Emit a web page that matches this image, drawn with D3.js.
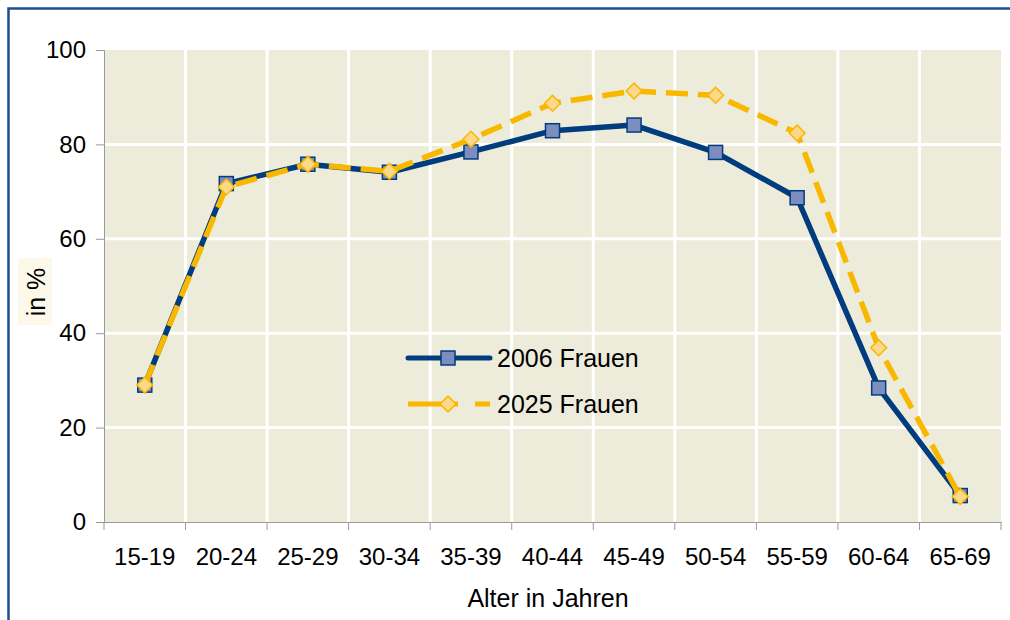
<!DOCTYPE html>
<html>
<head>
<meta charset="utf-8">
<script src="https://cdn.jsdelivr.net/npm/d3@7"></script>
<style>
  body { margin: 0; background: #fff; }
  text { font-family: "Liberation Sans", Arial, sans-serif; fill: #000; }
</style>
</head>
<body>
<div id="chart"></div>
<script>
// Age groups and participation rates (%)
const ageGroups = ["15-19", "20-24", "25-29", "30-34", "35-39", "40-44", "45-49", "50-54", "55-59", "60-64", "65-69"];
const frauen2006 = [29, 71.7, 75.8, 74.1, 78.4, 82.9, 84.1, 78.3, 68.7, 28.4, 5.6];
const frauen2025 = [29, 71.0, 75.8, 74.3, 81.1, 88.7, 91.3, 90.4, 82.4, 36.9, 5.4];
const yTicks = [0, 20, 40, 60, 80, 100];

const width = 1010;
const height = 620;
const margin = {top: 50, right: 9, bottom: 98, left: 104};

const svg = d3.select("#chart")
  .append("svg")
  .attr("width", width)
  .attr("height", height);

// outer frame
svg.append("rect")
  .attr("x", 8.5).attr("y", 8.5)
  .attr("width", 1020).attr("height", 640)
  .attr("fill", "none")
  .attr("stroke", "#1d4f8f")
  .attr("stroke-width", 2.5);

const x = d3.scaleBand()
  .domain(ageGroups)
  .range([margin.left, width - margin.right]);

const y = d3.scaleLinear()
  .domain([0, 100])
  .range([height - margin.bottom, margin.top]);

// plot background
svg.append("rect")
  .attr("x", margin.left)
  .attr("y", margin.top)
  .attr("width", width - margin.right - margin.left)
  .attr("height", y(0) - y(100))
  .attr("fill", "#edebda");

// white grid lines
svg.append("g")
  .selectAll("line")
  .data(yTicks.slice(1, -1))
  .enter().append("line")
  .attr("x1", margin.left).attr("x2", width - margin.right)
  .attr("y1", d => y(d)).attr("y2", d => y(d))
  .attr("stroke", "#fff").attr("stroke-width", 3);

svg.append("g")
  .selectAll("line")
  .data(ageGroups.slice(1))
  .enter().append("line")
  .attr("x1", d => x(d)).attr("x2", d => x(d))
  .attr("y1", y(100)).attr("y2", y(0))
  .attr("stroke", "#fff").attr("stroke-width", 3);

// Y axis
const yAxis = svg.append("g")
  .attr("transform", `translate(${margin.left},0)`)
  .call(d3.axisLeft(y).tickValues(yTicks).tickSize(8).tickPadding(10));
yAxis.selectAll("text").style("font-size", "24px");

// X axis with ticks at category boundaries
const xAxis = svg.append("g")
  .attr("transform", `translate(0,${y(0)})`)
  .call(d3.axisBottom(x).tickSize(0).tickPadding(26));
xAxis.selectAll("text").style("font-size", "24px");
xAxis.selectAll(".bound")
  .data(ageGroups.concat(["end"]))
  .enter().append("line")
  .attr("x1", (d, i) => margin.left + i * x.step())
  .attr("x2", (d, i) => margin.left + i * x.step())
  .attr("y1", 0).attr("y2", 8)
  .attr("stroke", "#999");

svg.selectAll(".domain, .tick line").attr("stroke", "#999");

// axis titles
svg.append("text")
  .attr("x", 548)
  .attr("y", 607)
  .attr("text-anchor", "middle")
  .style("font-size", "25px")
  .text("Alter in Jahren");

svg.append("rect")
  .attr("x", 18).attr("y", 258)
  .attr("width", 34).attr("height", 67)
  .attr("fill", "#fcf8ea");
svg.append("text")
  .attr("transform", "translate(45,292) rotate(-90)")
  .attr("text-anchor", "middle")
  .style("font-size", "25px")
  .text("in %");

// series
const cx = (d, i) => x(ageGroups[i]) + x.bandwidth() / 2;
const line = d3.line().x(cx).y(d => y(d));

svg.append("path")
  .datum(frauen2006)
  .attr("d", line)
  .attr("fill", "none")
  .attr("stroke", "#003c7e")
  .attr("stroke-width", 5.5)
  .attr("stroke-linejoin", "round");

svg.append("g")
  .selectAll("rect")
  .data(frauen2006)
  .enter().append("rect")
  .attr("x", (d, i) => cx(d, i) - 7)
  .attr("y", d => y(d) - 7)
  .attr("width", 14).attr("height", 14)
  .attr("fill", "#7d8dbf")
  .attr("stroke", "#003c7e")
  .attr("stroke-width", 1.5);

svg.append("path")
  .datum(frauen2025)
  .attr("d", line)
  .attr("fill", "none")
  .attr("stroke", "#f8b800")
  .attr("stroke-width", 5.5)
  .attr("stroke-dasharray", "22,10");

svg.append("g")
  .selectAll("path")
  .data(frauen2025)
  .enter().append("path")
  .attr("transform", (d, i) => `translate(${cx(d, i)},${y(d)}) rotate(45)`)
  .attr("d", d3.symbol().type(d3.symbolSquare).size(125))
  .attr("fill", "#fcd98a")
  .attr("stroke", "#f8b800")
  .attr("stroke-width", 1.5);

// legend
const legend = svg.append("g");
legend.append("line")
  .attr("x1", 408).attr("x2", 490).attr("y1", 358).attr("y2", 358)
  .attr("stroke", "#003c7e").attr("stroke-width", 5).attr("stroke-linecap", "round");
legend.append("rect")
  .attr("x", 441).attr("y", 351).attr("width", 14).attr("height", 14)
  .attr("fill", "#7d8dbf").attr("stroke", "#003c7e").attr("stroke-width", 1.5);
legend.append("text")
  .attr("x", 497).attr("y", 367)
  .style("font-size", "25px")
  .text("2006 Frauen");

legend.append("line")
  .attr("x1", 408).attr("x2", 490).attr("y1", 404).attr("y2", 404)
  .attr("stroke", "#f8b800").attr("stroke-width", 5)
  .attr("stroke-dasharray", "50,17,15");
legend.append("path")
  .attr("transform", "translate(448,404) rotate(45)")
  .attr("d", d3.symbol().type(d3.symbolSquare).size(125))
  .attr("fill", "#fcd98a").attr("stroke", "#f8b800").attr("stroke-width", 1.5);
legend.append("text")
  .attr("x", 497).attr("y", 413)
  .style("font-size", "25px")
  .text("2025 Frauen");
</script>
</body>
</html>
